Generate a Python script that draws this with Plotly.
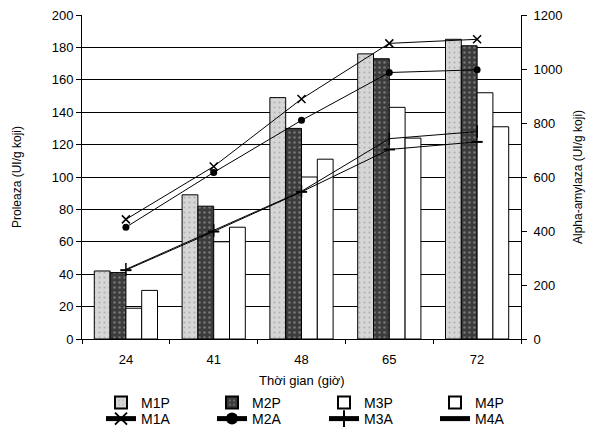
import plotly.graph_objects as go

categories = ["24", "41", "48", "65", "72"]
M1P = [42, 89, 149, 176, 185]
M2P = [41, 82, 130, 173, 181]
M3P = [19, 60, 100, 143, 152]
M4P = [30, 69, 111, 124, 131]
M1A = [443, 639, 889, 1095, 1110]
M2A = [414, 617, 810, 987, 997]
M3A = [258, 402, 547, 742, 768]
M4A = [255, 398, 545, 702, 730]
left_ticks = list(range(0, 201, 20))
right_ticks = list(range(0, 1201, 200))

FONT = "Liberation Sans, Arial, sans-serif"
W, H = 601, 429
PLOT_L, PLOT_R, PLOT_TOP, PLOT_BOTTOM = 82, 521, 15, 339

fig = go.Figure()

bar_styles = [
    ("M1P", M1P, dict(color="#d6d6d6", line=dict(color="black", width=1),
                      pattern=dict(shape=".", fgcolor="#8a8a8a", bgcolor="#d6d6d6", size=5, solidity=0.15))),
    ("M2P", M2P, dict(color="#3c3c3c", line=dict(color="black", width=1),
                      pattern=dict(shape=".", fgcolor="#b0b0b0", bgcolor="#3c3c3c", size=5, solidity=0.2))),
    ("M3P", M3P, dict(color="white", line=dict(color="black", width=1))),
    ("M4P", M4P, dict(color="white", line=dict(color="black", width=1))),
]
line_styles = [
    ("M1A", M1A, dict(symbol="x-thin", size=8, color="black", line=dict(color="black", width=1.5))),
    ("M2A", M2A, dict(symbol="circle", size=7, color="black")),
    ("M3A", M3A, dict(symbol="line-ns", size=9, color="black", line=dict(color="black", width=1.5))),
    ("M4A", M4A, dict(symbol="line-ew", size=8, color="black", line=dict(color="black", width=2))),
]

col_text_x = [143, 254, 366, 477]
row_y = [403, 419]

legends = {}
for i, (name, vals, mk) in enumerate(bar_styles):
    lg = "legend" if i == 0 else f"legend{i + 1}"
    fig.add_trace(go.Bar(x=categories, y=vals, name=name, marker=mk, legend=lg,
                         yaxis="y", showlegend=True))
    legends[lg] = (col_text_x[i], row_y[0])
for i, (name, vals, mk) in enumerate(line_styles):
    lg = f"legend{i + 5}"
    fig.add_trace(go.Scatter(x=categories, y=vals, name=name, mode="lines+markers",
                             line=dict(color="black", width=1), marker=mk, legend=lg,
                             yaxis="y2", showlegend=True))
    legends[lg] = (col_text_x[i], row_y[1])

for lg, (tx, ty) in legends.items():
    fig.update_layout({lg: dict(
        xref="container", yref="container",
        x=(tx - 42) / W, y=1 - ty / H, xanchor="left", yanchor="middle",
        bgcolor="rgba(0,0,0,0)", borderwidth=0,
        font=dict(family=FONT, size=14, color="black"),
        itemsizing="constant", tracegroupgap=0,
    )})

fig.update_layout(
    width=W, height=H, showlegend=True,
    margin=dict(l=PLOT_L, r=W - PLOT_R, t=PLOT_TOP, b=H - PLOT_BOTTOM, autoexpand=False),
    paper_bgcolor="white", plot_bgcolor="white",
    font=dict(family=FONT, size=13, color="black"),
    barmode="group", bargap=0.28, bargroupgap=0,
    xaxis=dict(
        type="category", showline=True, linecolor="black", linewidth=1,
        ticks="outside", ticklen=4, tickcolor="black", tickson="boundaries",
        showgrid=False, automargin=False, ticklabelstandoff=8,
        tickfont=dict(size=13),
    ),
    yaxis=dict(
        range=[0, 200], tickvals=left_ticks, showline=True, linecolor="black", linewidth=1,
        ticks="outside", ticklen=5, tickcolor="black", automargin=False,
        showgrid=True, gridcolor="black", gridwidth=1.4, zeroline=False,
        tickfont=dict(size=13),
    ),
    yaxis2=dict(
        range=[0, 1200], tickvals=right_ticks, overlaying="y", side="right",
        showline=True, linecolor="black", linewidth=1,
        ticks="outside", ticklen=5, tickcolor="black", automargin=False,
        showgrid=False, zeroline=False, ticklabelstandoff=4,
        tickfont=dict(size=13),
    ),
)


def px_x(px):
    return (px - PLOT_L) / (PLOT_R - PLOT_L)


def px_y(py):
    return (PLOT_BOTTOM - py) / (PLOT_BOTTOM - PLOT_TOP)


mid = (PLOT_TOP + PLOT_BOTTOM) / 2
fig.add_annotation(text="Thời gian (giờ)", xref="paper", yref="paper", x=0.5,
                   y=px_y(381), xanchor="center", yanchor="middle", showarrow=False,
                   font=dict(family=FONT, size=13, color="black"))
fig.add_annotation(text="Proleaza (UI/g koji)", xref="paper", yref="paper",
                   x=px_x(17), y=px_y(mid), textangle=-90, xanchor="center", yanchor="middle",
                   showarrow=False, font=dict(family=FONT, size=12, color="black"))
fig.add_annotation(text="Alpha-amylaza (UI/g koji)", xref="paper", yref="paper",
                   x=px_x(578), y=px_y(mid), textangle=-90, xanchor="center", yanchor="middle",
                   showarrow=False, font=dict(family=FONT, size=12, color="black"))

fig.write_html("out.html")
